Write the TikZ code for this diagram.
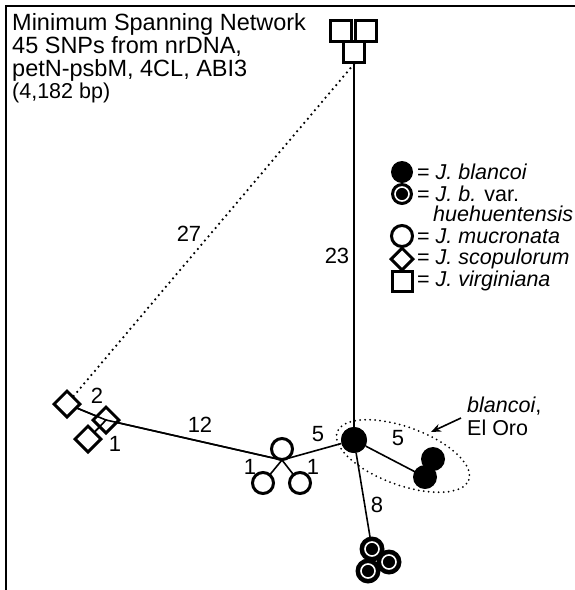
\documentclass[tikz,border=0pt]{standalone}
\usepackage{fontspec}
\setmainfont{Liberation Sans}
\usetikzlibrary{shapes.geometric,arrows.meta}
\begin{document}
\begin{tikzpicture}[x=1pt,y=1pt,
  edge/.style={line width=1.6},
  dots/.style={line width=2.5, line cap=round, dash pattern=on 0pt off 5.5pt},
  blk/.style={circle, fill=black, inner sep=0, minimum size=26},
  mucro/.style={circle, draw=black, line width=3, fill=white, inner sep=0, minimum size=21},
  hue/.style={circle, fill=black, inner sep=0, minimum size=25,
    path picture={\draw[white, line width=1.6] (path picture bounding box.center) circle (7);}},
  dia/.style={diamond, draw=black, line width=3, fill=white, inner sep=0, minimum size=27},
  sq/.style={rectangle, draw=black, line width=3, fill=white, inner sep=0, minimum size=21},
  txt/.style={inner sep=0, font=\fontsize{21.5}{25}\selectfont},
  ttl/.style={inner sep=0, font=\fontsize{23.5}{27}\selectfont},
  num/.style={inner sep=0, font=\fontsize{22}{26}\selectfont}
]
\useasboundingbox (0,0) rectangle (575,-590);
\draw[line width=2] (575,-6) -- (6,-6) -- (6,-590);

% title
\node[ttl, anchor=base west] (t1) at (12,-30) {Minimum Spanning Network};
\node[ttl, anchor=base west] (t2) at (12,-53) {45 SNPs from nrDNA,};
\node[ttl, anchor=base west] (t3) at (12,-76) {petN-psbM, 4CL, ABI3};
\node[inner sep=0, font=\fontsize{21.5}{25}\selectfont, anchor=base west] (t4) at (12,-98) {(4,182 bp)};

% coordinates / nodes
\coordinate (mj) at (282,-460);
\node[sq] (s1) at (341,-31) {};
\node[sq] (s2) at (366,-31) {};
\node[sq] (s3) at (354,-52) {};
\node[blk] (B) at (354,-440) {};

% edges
\draw[edge] (s3.south) -- (B);
\draw[dots] (s3.south) -- (72,-398) coordinate (dend);
\coordinate (d1c) at (67,-404);
\coordinate (d2c) at (106,-420);
\coordinate (d3c) at (88,-439);
\draw[edge] (d1c) -- (d2c) -- (d3c);
\draw[edge] (d2c) -- (mj);
\draw[edge] (mj) -- (B);
\draw[edge] (mj) -- (263,-483) coordinate (m2c);
\draw[edge] (mj) -- (300,-483) coordinate (m3c);
\draw[edge] (B) -- (425,-477) coordinate (p2c);
\draw[edge] (B) -- (372,-549) coordinate (h1c);

% nodes on top
\node[dia] (d1) at (d1c) {};
\node[dia] (d3) at (d3c) {};
\node[dia] (d2) at (d2c) {};
\draw[edge] (d1) -- (d2c) -- (d3);
\draw[edge] (d2c) -- (mj);
\node[mucro] (m1) at (282,-449) {};
\node[mucro] (m2) at (m2c) {};
\node[mucro] (m3) at (m3c) {};
\node[blk] (B) at (354,-440) {};
\node[blk, minimum size=24] (p1) at (433,-459) {};
\node[blk, minimum size=24] (p2) at (p2c) {};
\node[hue] (h1) at (h1c) {};
\node[hue] (h2) at (389,-562) {};
\node[hue] (h3) at (368,-571) {};

% ellipse and arrow
\draw[line width=2, line cap=round, dash pattern=on 0pt off 5pt, rotate around={-20:(403,-456)}] (403,-456) ellipse [x radius=70, y radius=29];
\coordinate (ar1) at (461,-418);
\coordinate (ar2) at (431,-432);
\draw[line width=1.6, -{Stealth[length=10pt,width=8pt]}] (ar1) -- (ar2);
\node[txt, anchor=base west] (bl) at (467,-412) {\textit{blancoi},};
\node[txt, anchor=base west] (eo) at (467,-435) {El Oro};

% numbers
\node[num] (n27) at (189,-234) {27};
\node[num] (n23) at (337,-256) {23};
\node[num] (n12) at (200,-425) {12};
\node[num] (n5a) at (318,-434) {5};
\node[num] (n1a) at (250,-467) {1};
\node[num] (n1b) at (313,-467) {1};
\node[num] (n5b) at (398,-438) {5};
\node[num] (n8) at (377,-505) {8};
\node[num] (n2) at (97,-396) {2};
\node[num] (n1c) at (115,-444) {1};

% legend
\node[blk, minimum size=22] (L1) at (402,-172) {};
\node[hue, minimum size=22] (L2) at (402,-194) {};
\node[mucro] (L3) at (402,-236) {};
\node[dia, minimum size=23] (L4) at (402,-259) {};
\node[sq, minimum size=20] (L5) at (402,-281) {};
\node[txt, anchor=west] (T1) at (417,-172) {= \textit{J. blancoi}};
\node[txt, anchor=west] (T2) at (417,-194) {= \textit{J. b.} var.};
\node[txt, anchor=west] (T2b) at (433,-214) {\textit{huehuentensis}};
\node[txt, anchor=west] (T3) at (417,-236) {= \textit{J. mucronata}};
\node[txt, anchor=west] (T4) at (417,-259) {= \textit{J. scopulorum}};
\node[txt, anchor=west] (T5) at (417,-281) {= \textit{J. virginiana}};
\end{tikzpicture}
\end{document}
